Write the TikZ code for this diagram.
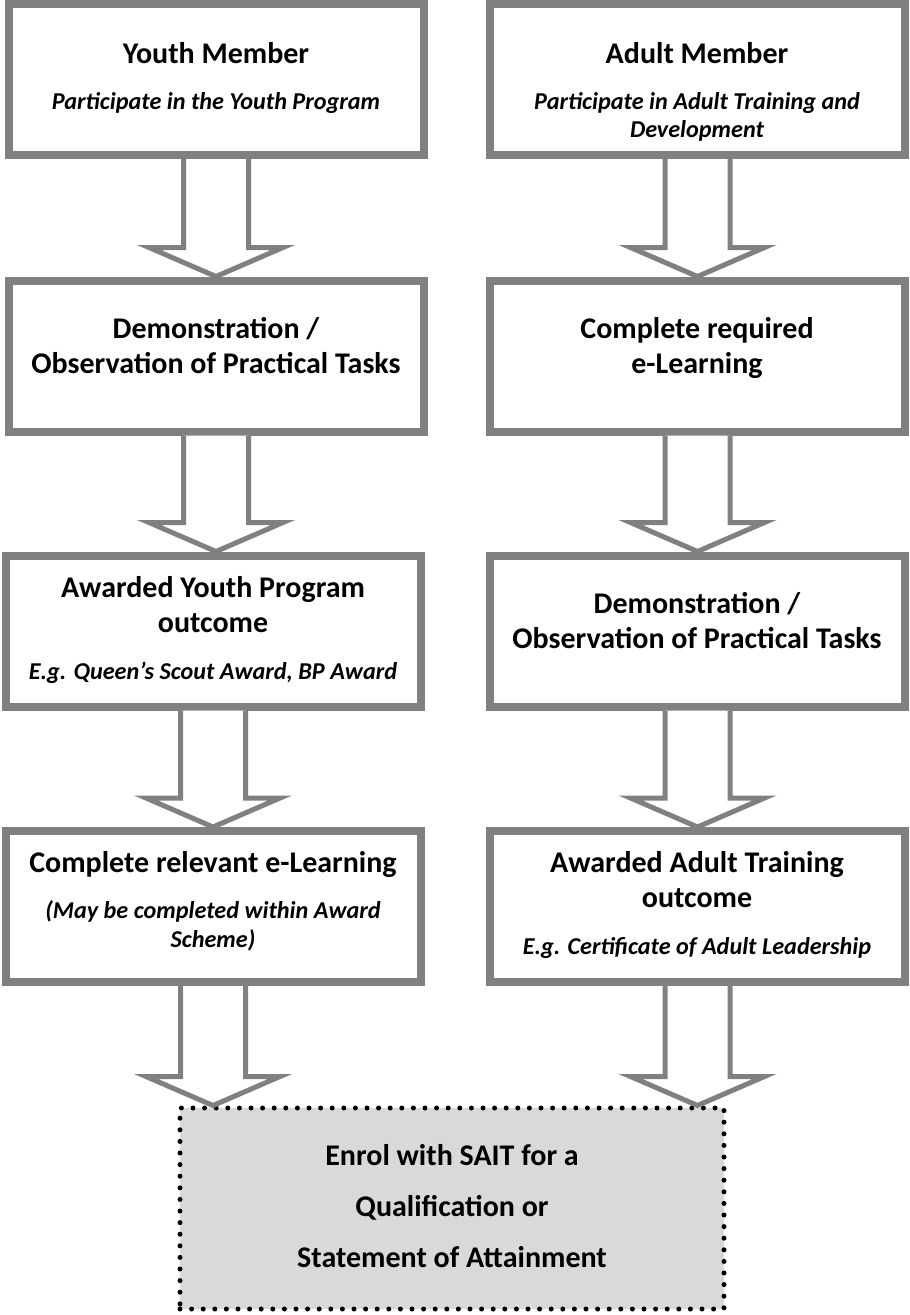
\documentclass[tikz,border=0pt]{standalone}
\usepackage{fontspec}
\setmainfont{Carlito}
\newfontfamily\notefont{Carlito Bold Italic}
\usepackage{tikz}
\usetikzlibrary{calc}
\definecolor{framegray}{RGB}{128, 128, 128}
\definecolor{enrolgray}{RGB}{217, 217, 217}

\begin{document}
\begin{tikzpicture}[x=1pt, y=-1pt,
    flowbox/.style={draw=framegray, line width=8pt, fill=white, minimum width=415pt, minimum height=151pt},
    boxtext/.style={align=center, anchor=base, inner sep=0pt, font=\fontsize{30}{35}\selectfont\bfseries},
    hollowarrow/.style={draw=framegray, line width=5pt, fill=white, miter limit=10},
    enrolbox/.style={draw=black, fill=enrolgray, line width=5pt, dash pattern=on 0pt off 11.6pt, line cap=round, minimum width=544pt, minimum height=201pt}]
    % Page frame
    \useasboundingbox (0,0) rectangle (910,1315);

    % Youth column
    \node[flowbox] (y1) at (216,79.5) {};
    \node[flowbox] (y2) at (216,356) {};
    \node[flowbox] (y3) at (213,631) {};
    \node[flowbox] (y4) at (213,906.5) {};

    % Adult column
    \node[flowbox] (a1) at (697.5,79.5) {};
    \node[flowbox] (a2) at (697.5,356) {};
    \node[flowbox] (a3) at (697.5,631) {};
    \node[flowbox] (a4) at (697.5,906.5) {};

    % Final step
    \node[enrolbox] (sait) at (452,1208.5) {};

    % Box texts - youth (placed on the baseline of the last line)
    \node[boxtext] (y1text) at (216,109) {Youth Member\\[11pt]
        {\notefont\fontsize{24.2}{24.2}\selectfont Participate in the Youth Program}};
    \node[boxtext] (y2text) at (216,373) {Demonstration /\\Observation of Practical Tasks};
    \node[boxtext] (y3text) at (213,679) {Awarded Youth Program\\outcome\\[12pt]
        {\notefont\fontsize{24.2}{24.2}\selectfont E.g. Queen’s Scout Award, BP Award}};
    \node[boxtext] (y4text) at (213,947) {Complete relevant e-Learning\\[11pt]
        {\notefont\fontsize{24.2}{24.2}\selectfont (May be completed within Award}\\[-6pt]
        {\notefont\fontsize{24.2}{24.2}\selectfont Scheme)}};

    % Box texts - adult
    \node[boxtext] (a1text) at (697,137) {Adult Member\\[11pt]
        {\notefont\fontsize{24.2}{24.2}\selectfont Participate in Adult Training and}\\[-7pt]
        {\notefont\fontsize{24.2}{24.2}\selectfont Development}};
    \node[boxtext] (a2text) at (697,373) {Complete required\\e-Learning};
    \node[boxtext] (a3text) at (697,648) {Demonstration /\\Observation of Practical Tasks};
    \node[boxtext] (a4text) at (697,954) {Awarded Adult Training\\outcome\\[12pt]
        {\notefont\fontsize{24.2}{24.2}\selectfont E.g. Certificate of Adult Leadership}};

    % Final text
    \node[boxtext, font=\fontsize{30}{51}\selectfont\bfseries] (saittext) at (452,1267)
        {Enrol with SAIT for a\\Qualification or\\Statement of Attainment};

    % Hollow block arrows between steps
    \foreach \from/\to in {y1/y2, y2/y3, y3/y4, y4/sait, a1/a2, a2/a3, a3/a4, a4/sait}
        \draw[hollowarrow] let \p1=(\from.south), \p2=(\to.north) in
            (\x1-32.5pt,\y1) -- (\x1-32.5pt,\y2+29pt) -- (\x1-67pt,\y2+29pt) -- (\x1,\y2)
            -- (\x1+67pt,\y2+29pt) -- (\x1+32.5pt,\y2+29pt) -- (\x1+32.5pt,\y1);
\end{tikzpicture}
\end{document}
